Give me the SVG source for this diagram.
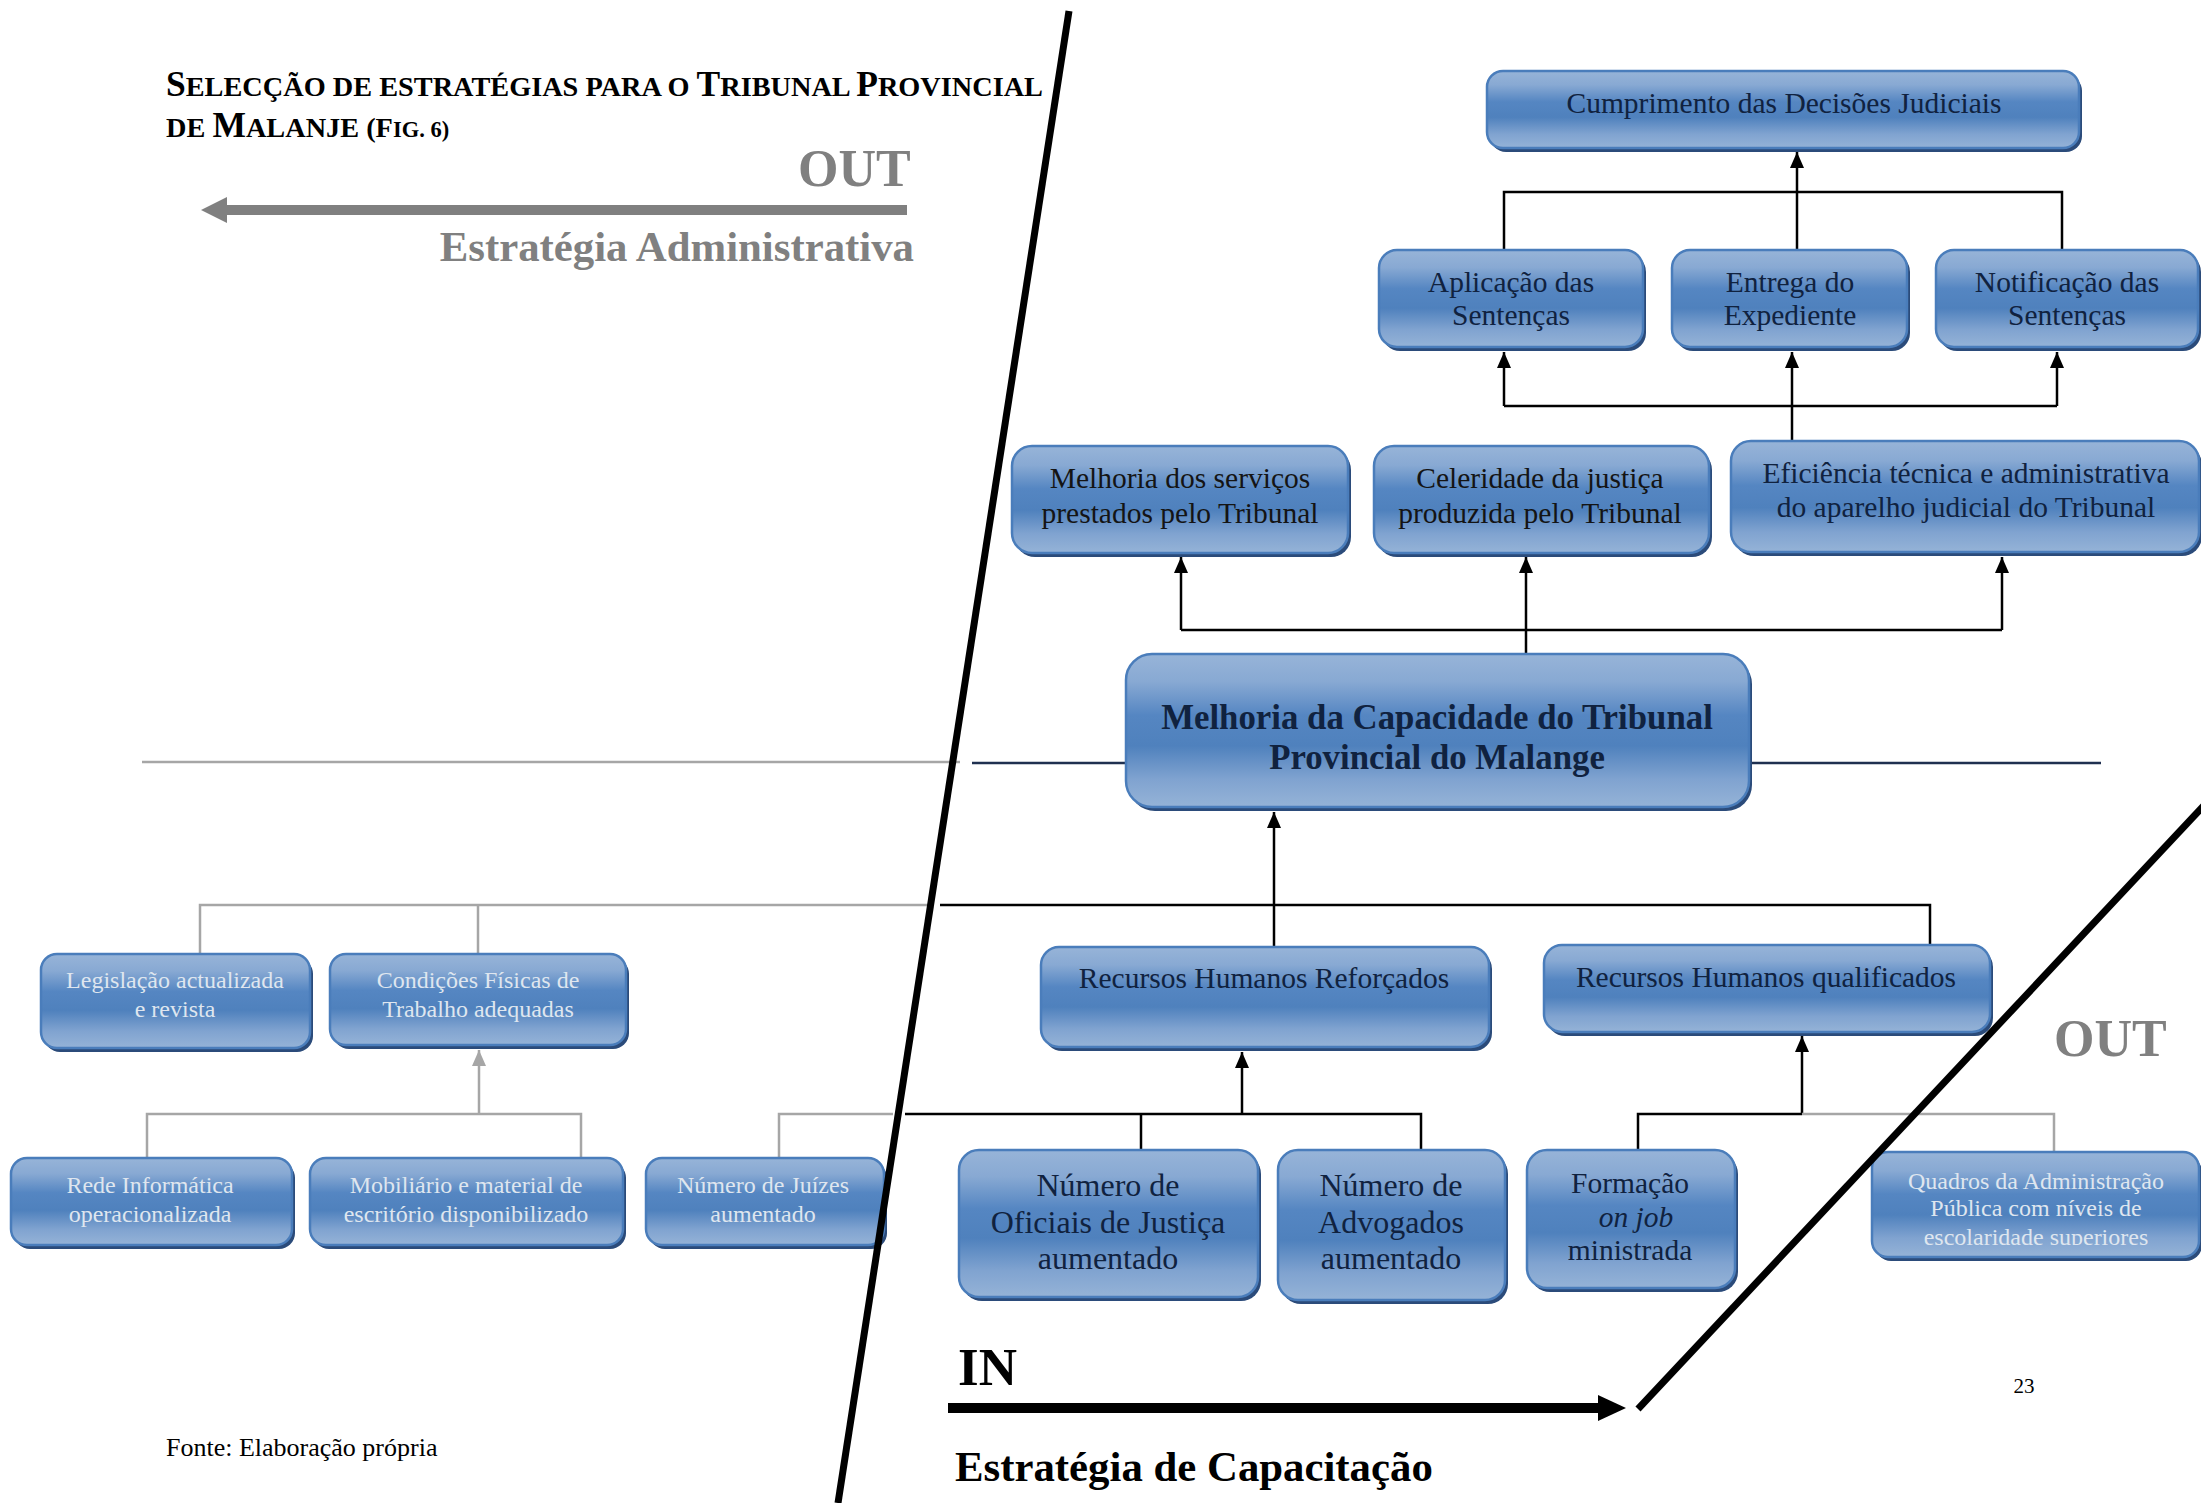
<svg xmlns="http://www.w3.org/2000/svg" width="2201" height="1503" viewBox="0 0 2201 1503">
<style>
text{font-family:"Liberation Serif","Times New Roman",serif}
.bx{fill:url(#gb);stroke:#4a7dbb;stroke-width:2.5}
.sh{fill:#2b4b7a}
.t{font-size:29.5px;text-anchor:middle;fill:#10223f}
.tk{font-size:29.5px;text-anchor:middle;fill:#141414}
.tf{font-size:24px;text-anchor:middle;fill:#dfe6ef}
.tc{font-size:34.8px;font-weight:bold;text-anchor:middle;fill:#10223f}
.tn{font-size:32px;text-anchor:middle;fill:#10223f}
.c{fill:none;stroke:#000;stroke-width:2.5}
.cg{fill:none;stroke:#a6a6a6;stroke-width:2.5}
</style>
<defs>
<linearGradient id="gb" x1="0" y1="0" x2="0" y2="1">
<stop offset="0" stop-color="#97b4d8"/>
<stop offset="0.18" stop-color="#88a9d3"/>
<stop offset="0.4" stop-color="#5586c2"/>
<stop offset="0.6" stop-color="#4f81bd"/>
<stop offset="0.82" stop-color="#80a3d0"/>
<stop offset="1" stop-color="#95b3d7"/>
</linearGradient>
<marker id="ab" markerUnits="userSpaceOnUse" markerWidth="16" markerHeight="14" refX="16" refY="7" orient="auto">
<path d="M0,0 L16,7 L0,14 z" fill="#000"/>
</marker>
<marker id="ag" markerUnits="userSpaceOnUse" markerWidth="16" markerHeight="14" refX="16" refY="7" orient="auto">
<path d="M0,0 L16,7 L0,14 z" fill="#a6a6a6"/>
</marker>
<clipPath id="cq"><rect x="1872" y="1152" width="327" height="93"/></clipPath>
</defs>
<rect width="2201" height="1503" fill="#fff"/>

<g id="title">
<text x="166" y="96" font-weight="bold"><tspan font-size="35.5">S</tspan><tspan font-size="28.3">ELECÇÃO DE ESTRATÉGIAS PARA O </tspan><tspan font-size="35.5">T</tspan><tspan font-size="28.3">RIBUNAL </tspan><tspan font-size="35.5">P</tspan><tspan font-size="28.3">ROVINCIAL</tspan></text>
<text x="166" y="137" font-weight="bold"><tspan font-size="28.3">DE </tspan><tspan font-size="35.5">M</tspan><tspan font-size="28.3">ALANJE </tspan><tspan font-size="28.3">(F</tspan><tspan font-size="22.5">IG. 6)</tspan></text>
</g>

<g id="labels">
<text x="798" y="186" font-size="52" font-weight="bold" fill="#808080">OUT</text>
<line x1="907" y1="210" x2="222" y2="210" stroke="#808080" stroke-width="10"/>
<polygon points="201,210 227,197 227,223" fill="#808080"/>
<text x="914" y="261" font-size="42.8" font-weight="bold" fill="#808080" text-anchor="end">Estratégia Administrativa</text>
<text x="2054" y="1056" font-size="52" font-weight="bold" fill="#808080">OUT</text>
<text x="958" y="1385" font-size="53" font-weight="bold" fill="#000">IN</text>
<line x1="948" y1="1408" x2="1600" y2="1408" stroke="#000" stroke-width="10"/>
<polygon points="1626,1408 1598,1395 1598,1421" fill="#000"/>
<text x="955" y="1481" font-size="42.8" font-weight="bold" fill="#000">Estratégia de Capacitação</text>
<text x="166" y="1456" font-size="26" fill="#000">Fonte: Elaboração própria</text>
<text x="2024" y="1393" font-size="21" text-anchor="middle" fill="#000">23</text>
</g>

<g id="connectors">
<line x1="142" y1="762" x2="960" y2="762" stroke="#a6a6a6" stroke-width="2.5"/>
<line x1="972" y1="763" x2="1130" y2="763" stroke="#1f3050" stroke-width="2.5"/>
<line x1="1745" y1="763" x2="2101" y2="763" stroke="#1f3050" stroke-width="2.5"/>
<path class="c" d="M1504,250 V192 H2062 V250"/>
<path class="c" d="M1797,250 V152" marker-end="url(#ab)"/>
<path class="c" d="M1504,406 H2057"/>
<path class="c" d="M1504,406 V352" marker-end="url(#ab)"/>
<path class="c" d="M2057,406 V352" marker-end="url(#ab)"/>
<path class="c" d="M1792,441 V352" marker-end="url(#ab)"/>
<path class="c" d="M1181,630 H2002"/>
<path class="c" d="M1181,630 V557" marker-end="url(#ab)"/>
<path class="c" d="M2002,630 V557" marker-end="url(#ab)"/>
<path class="c" d="M1526,654 V557" marker-end="url(#ab)"/>
<path class="c" d="M1274,947 V812" marker-end="url(#ab)"/>
<path class="c" d="M940,905 H1930 V946"/>
<path class="cg" d="M200,955 V905 H928"/>
<path class="cg" d="M478,905 V955"/>
<path class="c" d="M1242,1114 V1052" marker-end="url(#ab)"/>
<path class="c" d="M905,1114 H1421 V1150"/>
<path class="c" d="M1141,1114 V1150"/>
<path class="cg" d="M779,1158 V1114 H893"/>
<path class="c" d="M1802,1114 V1036" marker-end="url(#ab)"/>
<path class="c" d="M1638,1150 V1114 H1802"/>
<path class="cg" d="M1802,1114 H2054 V1152"/>
<path class="cg" d="M479,1114 V1050" marker-end="url(#ag)"/>
<path class="cg" d="M147,1158 V1114 H581 V1158"/>
</g>

<g id="n-cumprimento">
<rect class="sh" x="1490" y="75" width="592" height="77" rx="16"/>
<rect class="bx" x="1487" y="71" width="592" height="77" rx="16"/>
<text class="t" x="1784" y="113">Cumprimento das Decisões Judiciais</text>
</g>
<g id="n-aplicacao">
<rect class="sh" x="1382" y="254" width="264" height="97" rx="18"/>
<rect class="bx" x="1379" y="250" width="264" height="97" rx="18"/>
<text class="t" x="1511" y="292">Aplicação das</text>
<text class="t" x="1511" y="325">Sentenças</text>
</g>
<g id="n-entrega">
<rect class="sh" x="1675" y="254" width="235" height="97" rx="18"/>
<rect class="bx" x="1672" y="250" width="235" height="97" rx="18"/>
<text class="t" x="1790" y="292">Entrega do</text>
<text class="t" x="1790" y="325">Expediente</text>
</g>
<g id="n-notificacao">
<rect class="sh" x="1939" y="254" width="262" height="97" rx="18"/>
<rect class="bx" x="1936" y="250" width="262" height="97" rx="18"/>
<text class="t" x="2067" y="292">Notificação das</text>
<text class="t" x="2067" y="325">Sentenças</text>
</g>
<g id="n-melhoria-servicos">
<rect class="sh" x="1015" y="450" width="336" height="107" rx="20"/>
<rect class="bx" x="1012" y="446" width="336" height="107" rx="20"/>
<text class="tk" x="1180" y="488">Melhoria dos serviços</text>
<text class="tk" x="1180" y="523">prestados pelo Tribunal</text>
</g>
<g id="n-celeridade">
<rect class="sh" x="1377" y="450" width="335" height="107" rx="20"/>
<rect class="bx" x="1374" y="446" width="335" height="107" rx="20"/>
<text class="tk" x="1540" y="488">Celeridade da justiça</text>
<text class="tk" x="1540" y="523">produzida pelo Tribunal</text>
</g>
<g id="n-eficiencia">
<rect class="sh" x="1734" y="445" width="468" height="111" rx="20"/>
<rect class="bx" x="1731" y="441" width="468" height="111" rx="20"/>
<text class="t" x="1966" y="483">Eficiência técnica e administrativa</text>
<text class="t" x="1966" y="517">do aparelho judicial do Tribunal</text>
</g>
<g id="n-central">
<rect class="sh" x="1129" y="658" width="623" height="153" rx="26"/>
<rect class="bx" x="1126" y="654" width="623" height="153" rx="26"/>
<text class="tc" x="1437" y="729">Melhoria da Capacidade do Tribunal</text>
<text class="tc" x="1437" y="769">Provincial do Malange</text>
</g>
<g id="n-rh-reforcados">
<rect class="sh" x="1044" y="951" width="448" height="100" rx="18"/>
<rect class="bx" x="1041" y="947" width="448" height="100" rx="18"/>
<text class="t" x="1264" y="988">Recursos Humanos Reforçados</text>
</g>
<g id="n-rh-qualificados">
<rect class="sh" x="1547" y="949" width="446" height="87" rx="18"/>
<rect class="bx" x="1544" y="945" width="446" height="87" rx="18"/>
<text class="t" x="1766" y="987">Recursos Humanos qualificados</text>
</g>
<g id="n-legislacao">
<rect class="sh" x="44" y="958" width="269" height="94" rx="16"/>
<rect class="bx" x="41" y="954" width="269" height="94" rx="16"/>
<text class="tf" x="175" y="988">Legislação actualizada</text>
<text class="tf" x="175" y="1017">e revista</text>
</g>
<g id="n-condicoes">
<rect class="sh" x="333" y="958" width="296" height="91" rx="16"/>
<rect class="bx" x="330" y="954" width="296" height="91" rx="16"/>
<text class="tf" x="478" y="988">Condições Físicas de</text>
<text class="tf" x="478" y="1017">Trabalho adequadas</text>
</g>
<g id="n-oficiais">
<rect class="sh" x="962" y="1154" width="299" height="147" rx="20"/>
<rect class="bx" x="959" y="1150" width="299" height="147" rx="20"/>
<text class="tn" x="1108" y="1196">Número de</text>
<text class="tn" x="1108" y="1233">Oficiais de Justiça</text>
<text class="tn" x="1108" y="1269">aumentado</text>
</g>
<g id="n-advogados">
<rect class="sh" x="1281" y="1154" width="227" height="150" rx="20"/>
<rect class="bx" x="1278" y="1150" width="227" height="150" rx="20"/>
<text class="tn" x="1391" y="1196">Número de</text>
<text class="tn" x="1391" y="1233">Advogados</text>
<text class="tn" x="1391" y="1269">aumentado</text>
</g>
<g id="n-formacao">
<rect class="sh" x="1530" y="1154" width="208" height="138" rx="20"/>
<rect class="bx" x="1527" y="1150" width="208" height="138" rx="20"/>
<text class="t" x="1630" y="1193">Formação</text>
<text class="t" x="1636" y="1227" font-style="italic">on job</text>
<text class="t" x="1630" y="1260">ministrada</text>
</g>
<g id="n-quadros">
<rect class="sh" x="1875" y="1156" width="327" height="105" rx="16"/>
<rect class="bx" x="1872" y="1152" width="327" height="105" rx="16"/>
<g clip-path="url(#cq)">
<text class="tf" x="2036" y="1189">Quadros da Administração</text>
<text class="tf" x="2036" y="1216">Pública com níveis de</text>
<text class="tf" x="2036" y="1245">escolaridade superiores</text>
</g>
</g>
<g id="n-rede">
<rect class="sh" x="14" y="1162" width="281" height="87" rx="16"/>
<rect class="bx" x="11" y="1158" width="281" height="87" rx="16"/>
<text class="tf" x="150" y="1193">Rede Informática</text>
<text class="tf" x="150" y="1222">operacionalizada</text>
</g>
<g id="n-mobiliario">
<rect class="sh" x="313" y="1162" width="313" height="87" rx="16"/>
<rect class="bx" x="310" y="1158" width="313" height="87" rx="16"/>
<text class="tf" x="466" y="1193">Mobiliário e material de</text>
<text class="tf" x="466" y="1222">escritório disponibilizado</text>
</g>
<g id="n-juizes">
<rect class="sh" x="649" y="1162" width="238" height="87" rx="16"/>
<rect class="bx" x="646" y="1158" width="238" height="87" rx="16"/>
<text class="tf" x="763" y="1193">Número de Juízes</text>
<text class="tf" x="763" y="1222">aumentado</text>
</g>

<g id="dividers">
<line x1="1069" y1="11" x2="838" y2="1503" stroke="#000" stroke-width="7"/>
<line x1="1638" y1="1409" x2="2212" y2="797" stroke="#000" stroke-width="7"/>
</g>
</svg>
